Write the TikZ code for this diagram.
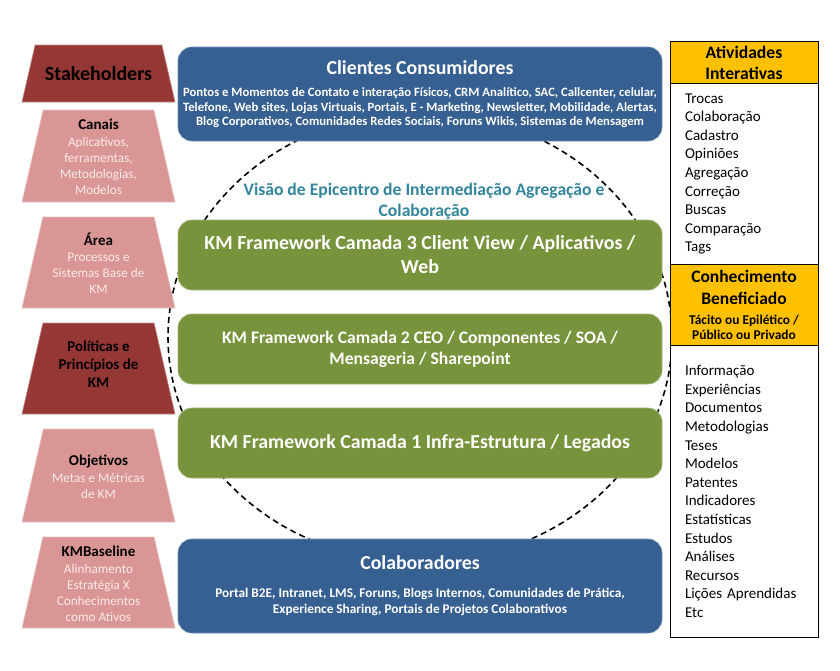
\documentclass[tikz,border=0pt]{standalone}
\usepackage{fontspec}
\setmainfont{Carlito}

\definecolor{darkred}{HTML}{953735}
\definecolor{lightred}{HTML}{D99694}
\definecolor{paletext}{HTML}{FBEAEA}
\definecolor{boxblue}{HTML}{376092}
\definecolor{boxgreen}{HTML}{77933C}
\definecolor{tealtext}{HTML}{31859C}
\definecolor{headyellow}{HTML}{FFC000}

\newcommand{\traptitle}[1]{{\color{black}\fontsize{15}{16}\selectfont\bfseries #1}}
\newcommand{\boxtitle}[1]{{\fontsize{19.8}{22}\selectfont #1}}
% trapezoid between y = #1 (top) and y = #2 (bottom)
\newcommand{\trapshape}[3]{%
  \pgfmathsetmacro{\trapinset}{(#2-#1)*0.23}
  \draw[#3] (22,#2) -- (175,#2) -- ({175-\trapinset},#1) -- ({22+\trapinset},#1) -- cycle;}

\tikzset{
  darktrap/.style={fill=darkred, draw=darkred!60!white, line width=0.6pt},
  lighttrap/.style={fill=lightred, draw=lightred!60!white, line width=0.6pt},
  traptext/.style={align=center, inner sep=0pt, text=paletext, font=\fontsize{13.2}{16}\selectfont},
  bluebox/.style={rectangle, rounded corners=14pt, minimum width=484pt, minimum height=94pt,
    fill=boxblue, draw=boxblue!70!white, line width=0.6pt, text=white, align=center},
  greenbox/.style={bluebox, minimum height=70pt, fill=boxgreen, draw=boxgreen!70!white},
  headbox/.style={rectangle, draw=black, line width=1pt, fill=headyellow, minimum width=148pt,
    anchor=north, align=center},
  listbox/.style={rectangle, draw=black, line width=1pt, fill=white, minimum width=148pt,
    anchor=north, text width=118pt, inner xsep=15pt, align=left,
    font=\fontsize{15}{18.6}\selectfont}
}

\begin{document}
\begin{tikzpicture}[x=1pt, y=-1pt]
  \useasboundingbox[fill=white] (0,0) rectangle (840,670);

  % epicentro
  \draw[dash pattern=on 6pt off 4pt, line width=1.6pt] (420,337) ellipse [x radius=252pt, y radius=225pt];

  % stakeholders column
  \trapshape{45}{102}{darktrap}
  \trapshape{110}{202}{lighttrap}
  \trapshape{217}{308}{lighttrap}
  \trapshape{323}{414}{darktrap}
  \trapshape{429}{522}{lighttrap}
  \trapshape{537}{628}{lighttrap}
  \node[traptext, text=black, font=\fontsize{20}{22}\selectfont\bfseries] (stake) at (98.5,74) {Stakeholders};
  \node[traptext] (canais) at (98.5,157)
    {\traptitle{Canais}\\[1pt]Aplicativos,\\ferramentas,\\Metodologias,\\Modelos};
  \node[traptext] (area) at (98.5,263.5)
    {\traptitle{Área}\\Processos e\\Sistemas Base de\\KM};
  \node[traptext, text=black, font=\fontsize{15}{18}\selectfont\bfseries] (politicas) at (98.5,364.5)
    {Políticas e\\Princípios de\\KM};
  \node[traptext] (objetivos) at (98.5,476.5)
    {\traptitle{Objetivos}\\[1pt]Metas e Métricas\\de KM};
  \node[traptext] (baseline) at (98.5,584)
    {\traptitle{KMBaseline}\\[1pt]Alinhamento\\Estratégia X\\Conhecimentos\\como Ativos};

  % middle column
  \node[bluebox, font=\fontsize{12.7}{14.5}\selectfont\bfseries] (clientes) at (420,94)
    {\boxtitle{Clientes Consumidores}\\[8pt]
    Pontos e Momentos de Contato e interação Físicos, CRM Analítico, SAC, Callcenter, celular,\\
    Telefone, Web sites, Lojas Virtuais, Portais, E - Marketing, Newsletter, Mobilidade, Alertas,\\
    Blog Corporativos, Comunidades Redes Sociais, Foruns Wikis, Sistemas de Mensagem};
  \node[text=tealtext, align=center, font=\fontsize{17.6}{21}\selectfont\bfseries] (visao) at (424,201)
    {Visão de Epicentro de Intermediação Agregação e\\Colaboração};
  \node[greenbox, font=\fontsize{19.9}{24}\selectfont\bfseries] (camada3) at (420,255)
    {KM Framework Camada 3 Client View / Aplicativos /\\Web};
  \node[greenbox, font=\fontsize{17.6}{21}\selectfont\bfseries] (camada2) at (420,349)
    {KM Framework Camada 2 CEO / Componentes / SOA /\\Mensageria / Sharepoint};
  \node[greenbox, font=\fontsize{19.8}{24}\selectfont\bfseries] (camada1) at (420,443)
    {KM Framework Camada 1 Infra-Estrutura / Legados};
  \node[bluebox, font=\fontsize{13.3}{16}\selectfont\bfseries] (colab) at (420,586)
    {\boxtitle{Colaboradores}\\[12pt]
    Portal B2E, Intranet, LMS, Foruns, Blogs Internos, Comunidades de Prática,\\
    Experience Sharing, Portais de Projetos Colaborativos};

  % right column
  \node[headbox, minimum height=42pt, font=\fontsize{17.6}{21}\selectfont\bfseries] (ativ) at (744,41)
    {Atividades\\Interativas};
  \node[listbox, minimum height=181pt] (ativlist) at (744,83)
    {Trocas\\Colaboração\\Cadastro\\Opiniões\\Agregação\\Correção\\Buscas\\Comparação\\Tags};
  \node[headbox, minimum height=81pt, font=\fontsize{13.4}{15}\selectfont\bfseries] (conh) at (744,264)
    {{\fontsize{17.5}{21}\selectfont Conhecimento}\\[7pt]{\fontsize{17.5}{21}\selectfont Beneficiado}\\[5pt]
    Tácito ou Epilético /\\Público ou Privado};
  \node[listbox, minimum height=292pt] (conhlist) at (744,345)
    {Informação\\Experiências\\Documentos\\Metodologias\\Teses\\Modelos\\Patentes\\Indicadores\\Estatísticas\\Estudos\\Análises\\Recursos\\Lições Aprendidas\\Etc};
\end{tikzpicture}
\end{document}
